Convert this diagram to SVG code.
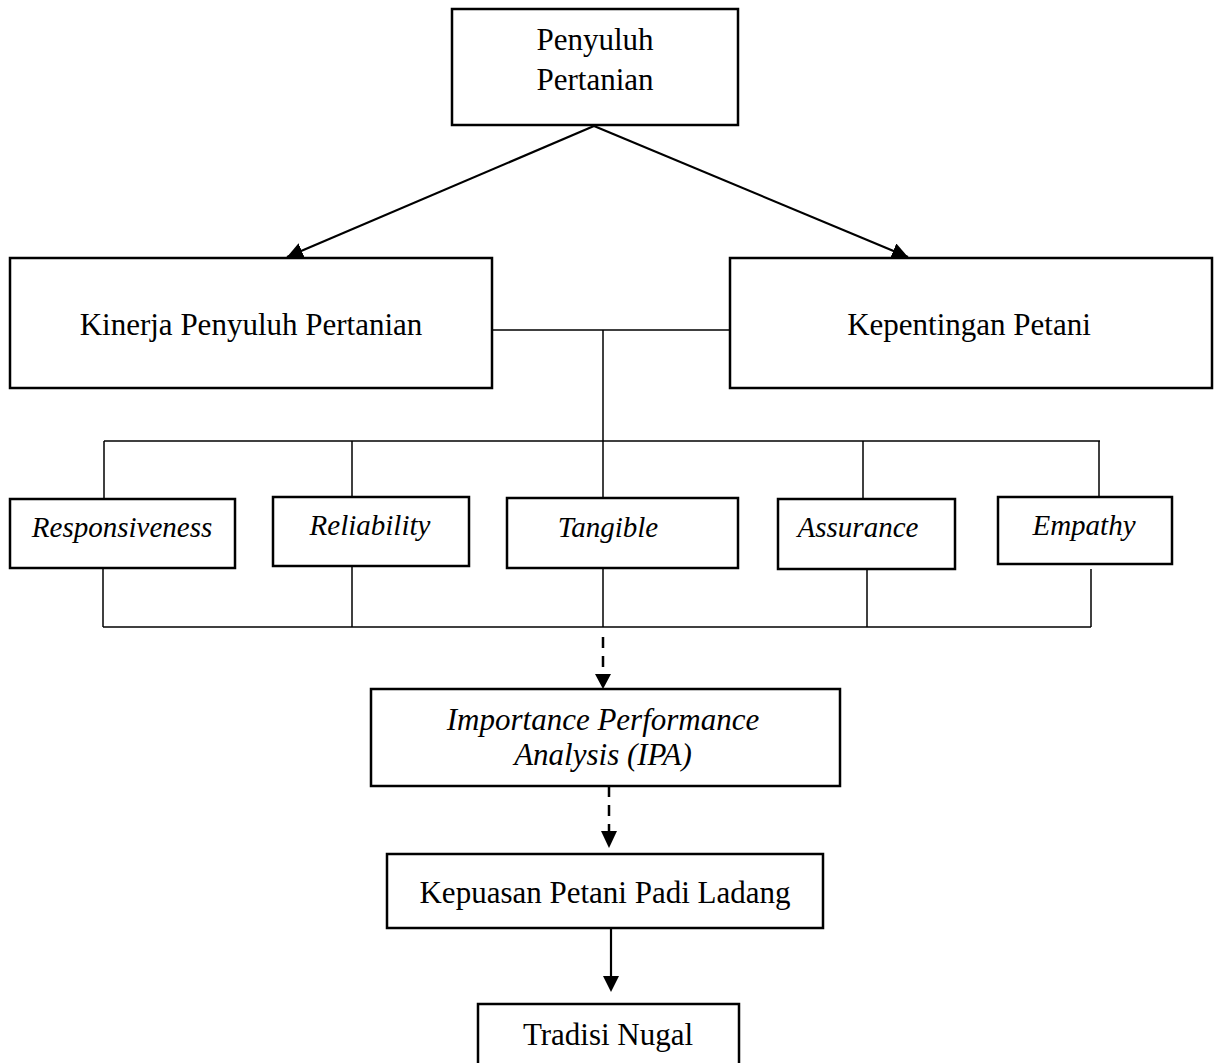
<svg xmlns="http://www.w3.org/2000/svg" width="1221" height="1063" viewBox="0 0 1221 1063">
<style>
.box{fill:#fff;stroke:#000;stroke-width:2.5}
.t{font-family:"Liberation Serif","Times New Roman",serif;font-size:31px;fill:#000;text-anchor:middle}
.i{font-style:italic;font-size:29px}
.ln{stroke:#000;stroke-width:1.5;fill:none}
.ar{stroke:#000;stroke-width:2.2;fill:none}
.ds{stroke:#000;stroke-width:2.5;fill:none;stroke-dasharray:11 8}
</style>
<defs>
<marker id="ah" viewBox="0 0 10 10" refX="10" refY="5" markerWidth="16" markerHeight="16" markerUnits="userSpaceOnUse" orient="auto">
<path d="M0,0 L10,5 L0,10 Z" fill="#000"/>
</marker>
</defs>
<rect width="1221" height="1063" fill="#fff"/>
<g id="connectors">
<line class="ar" x1="594" y1="126" x2="287" y2="257" marker-end="url(#ah)"/>
<line class="ar" x1="594" y1="126" x2="908" y2="257" marker-end="url(#ah)"/>
<line class="ln" x1="492" y1="330" x2="730" y2="330"/>
<line class="ln" x1="603" y1="330" x2="603" y2="498"/>
<line class="ln" x1="104" y1="441" x2="1100" y2="441"/>
<line class="ln" x1="104" y1="441" x2="104" y2="499"/>
<line class="ln" x1="352" y1="441" x2="352" y2="497"/>
<line class="ln" x1="863" y1="441" x2="863" y2="499"/>
<line class="ln" x1="1099" y1="441" x2="1099" y2="497"/>
<line class="ln" x1="103" y1="568" x2="103" y2="627"/>
<line class="ln" x1="352" y1="566" x2="352" y2="627"/>
<line class="ln" x1="603" y1="568" x2="603" y2="627"/>
<line class="ln" x1="867" y1="569" x2="867" y2="627"/>
<line class="ln" x1="1091" y1="569" x2="1091" y2="627"/>
<line class="ln" x1="103" y1="627" x2="1091" y2="627"/>
<line class="ds" x1="603" y1="637" x2="603" y2="674"/>
<path d="M595,674 L611,674 L603,689 Z" fill="#000"/>
<line class="ds" x1="609" y1="786" x2="609" y2="831"/>
<path d="M601,831 L617,831 L609,848 Z" fill="#000"/>
<line class="ar" x1="611" y1="928" x2="611" y2="977"/>
<path d="M603,976 L619,976 L611,992 Z" fill="#000"/>
</g>
<g id="penyuluh">
<rect class="box" x="452" y="9" width="286" height="116"/>
<text class="t" x="595" y="50">Penyuluh</text>
<text class="t" x="595" y="90">Pertanian</text>
</g>
<g id="kinerja">
<rect class="box" x="10" y="258" width="482" height="130"/>
<text class="t" x="251" y="335">Kinerja Penyuluh Pertanian</text>
</g>
<g id="kepentingan">
<rect class="box" x="730" y="258" width="482" height="130"/>
<text class="t" x="969" y="335">Kepentingan Petani</text>
</g>
<g id="responsiveness">
<rect class="box" x="10" y="499" width="225" height="69"/>
<text class="t i" x="122" y="537">Responsiveness</text>
</g>
<g id="reliability">
<rect class="box" x="273" y="497" width="196" height="69"/>
<text class="t i" x="370" y="535">Reliability</text>
</g>
<g id="tangible">
<rect class="box" x="507" y="498" width="231" height="70"/>
<text class="t i" x="608" y="537">Tangible</text>
</g>
<g id="assurance">
<rect class="box" x="778" y="499" width="177" height="70"/>
<text class="t i" x="858" y="537">Assurance</text>
</g>
<g id="empathy">
<rect class="box" x="998" y="497" width="174" height="67"/>
<text class="t i" x="1084" y="535">Empathy</text>
</g>
<g id="ipa">
<rect class="box" x="371" y="689" width="469" height="97"/>
<text class="t i" x="603" y="730" style="font-size:31px">Importance Performance</text>
<text class="t i" x="603" y="765" style="font-size:31px">Analysis (IPA)</text>
</g>
<g id="kepuasan">
<rect class="box" x="387" y="854" width="436" height="74"/>
<text class="t" x="605" y="903">Kepuasan Petani Padi Ladang</text>
</g>
<g id="tradisi">
<rect class="box" x="478" y="1004" width="261" height="70"/>
<text class="t" x="608" y="1045">Tradisi Nugal</text>
</g>
</svg>
